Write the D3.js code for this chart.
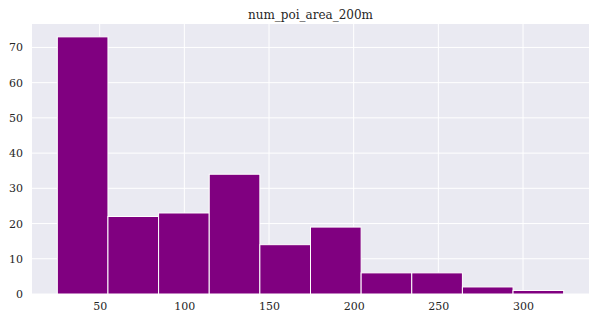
<!DOCTYPE html>
<html><head><meta charset="utf-8">
<script src="https://cdn.jsdelivr.net/npm/d3@7"></script>
<style>body{margin:0;background:#fff}</style>
</head><body>
<svg id="c" width="596" height="321"></svg>
<script>
const title = "num_poi_area_200m";
const binStart = 25;
const binEnd = 324;
const counts = [73, 22, 23, 34, 14, 19, 6, 6, 2, 1];
const xTicks = [50, 100, 150, 200, 250, 300];
const yTicks = [0, 10, 20, 30, 40, 50, 60, 70];

const svg = d3.select("#c");
const L = 32, R = 589, T = 24, B = 294;
const bw = (binEnd - binStart) / counts.length;
const bins = counts.map((c, i) => ({x0: binStart + i * bw, x1: binStart + (i + 1) * bw, c}));
const pad = (binEnd - binStart) * 0.05;
const x = d3.scaleLinear().domain([binStart - pad, binEnd + pad]).range([L, R]);
const y = d3.scaleLinear().domain([0, d3.max(counts) * 1.05]).range([B, T]);

svg.append("rect").attr("x", L).attr("y", T).attr("width", R - L).attr("height", B - T).attr("fill", "#EAEAF2");
const g = svg.append("g");
g.selectAll(".gx").data(xTicks).join("line")
  .attr("x1", d => x(d)).attr("x2", d => x(d)).attr("y1", T).attr("y2", B)
  .attr("stroke", "#fff").attr("stroke-width", 1);
g.selectAll(".gy").data(yTicks).join("line")
  .attr("y1", d => y(d)).attr("y2", d => y(d)).attr("x1", L).attr("x2", R)
  .attr("stroke", "#fff").attr("stroke-width", 1);

svg.append("g").selectAll("rect").data(bins).join("rect")
  .attr("x", d => x(d.x0)).attr("width", d => x(d.x1) - x(d.x0))
  .attr("y", d => y(d.c)).attr("height", d => y(0) - y(d.c))
  .attr("fill", "#800080").attr("stroke", "#fff").attr("stroke-width", 1);

const font = "'DejaVu Serif', serif";
const xa = svg.append("g").attr("transform", `translate(0,${B})`)
  .call(d3.axisBottom(x).tickValues(xTicks).tickSize(0).tickPadding(8));
xa.select(".domain").remove();
xa.selectAll("text").attr("font-family", font).attr("font-size", 11).attr("fill", "#262626");
const ya = svg.append("g").attr("transform", `translate(${L},0)`)
  .call(d3.axisLeft(y).tickValues(yTicks).tickSize(0).tickPadding(9));
ya.select(".domain").remove();
ya.selectAll("text").attr("font-family", font).attr("font-size", 11).attr("fill", "#262626");

svg.append("text").attr("x", (L + R) / 2).attr("y", 19).attr("text-anchor", "middle")
  .attr("font-family", font).attr("font-size", 12).attr("fill", "#262626").text(title);
</script>
</body></html>
